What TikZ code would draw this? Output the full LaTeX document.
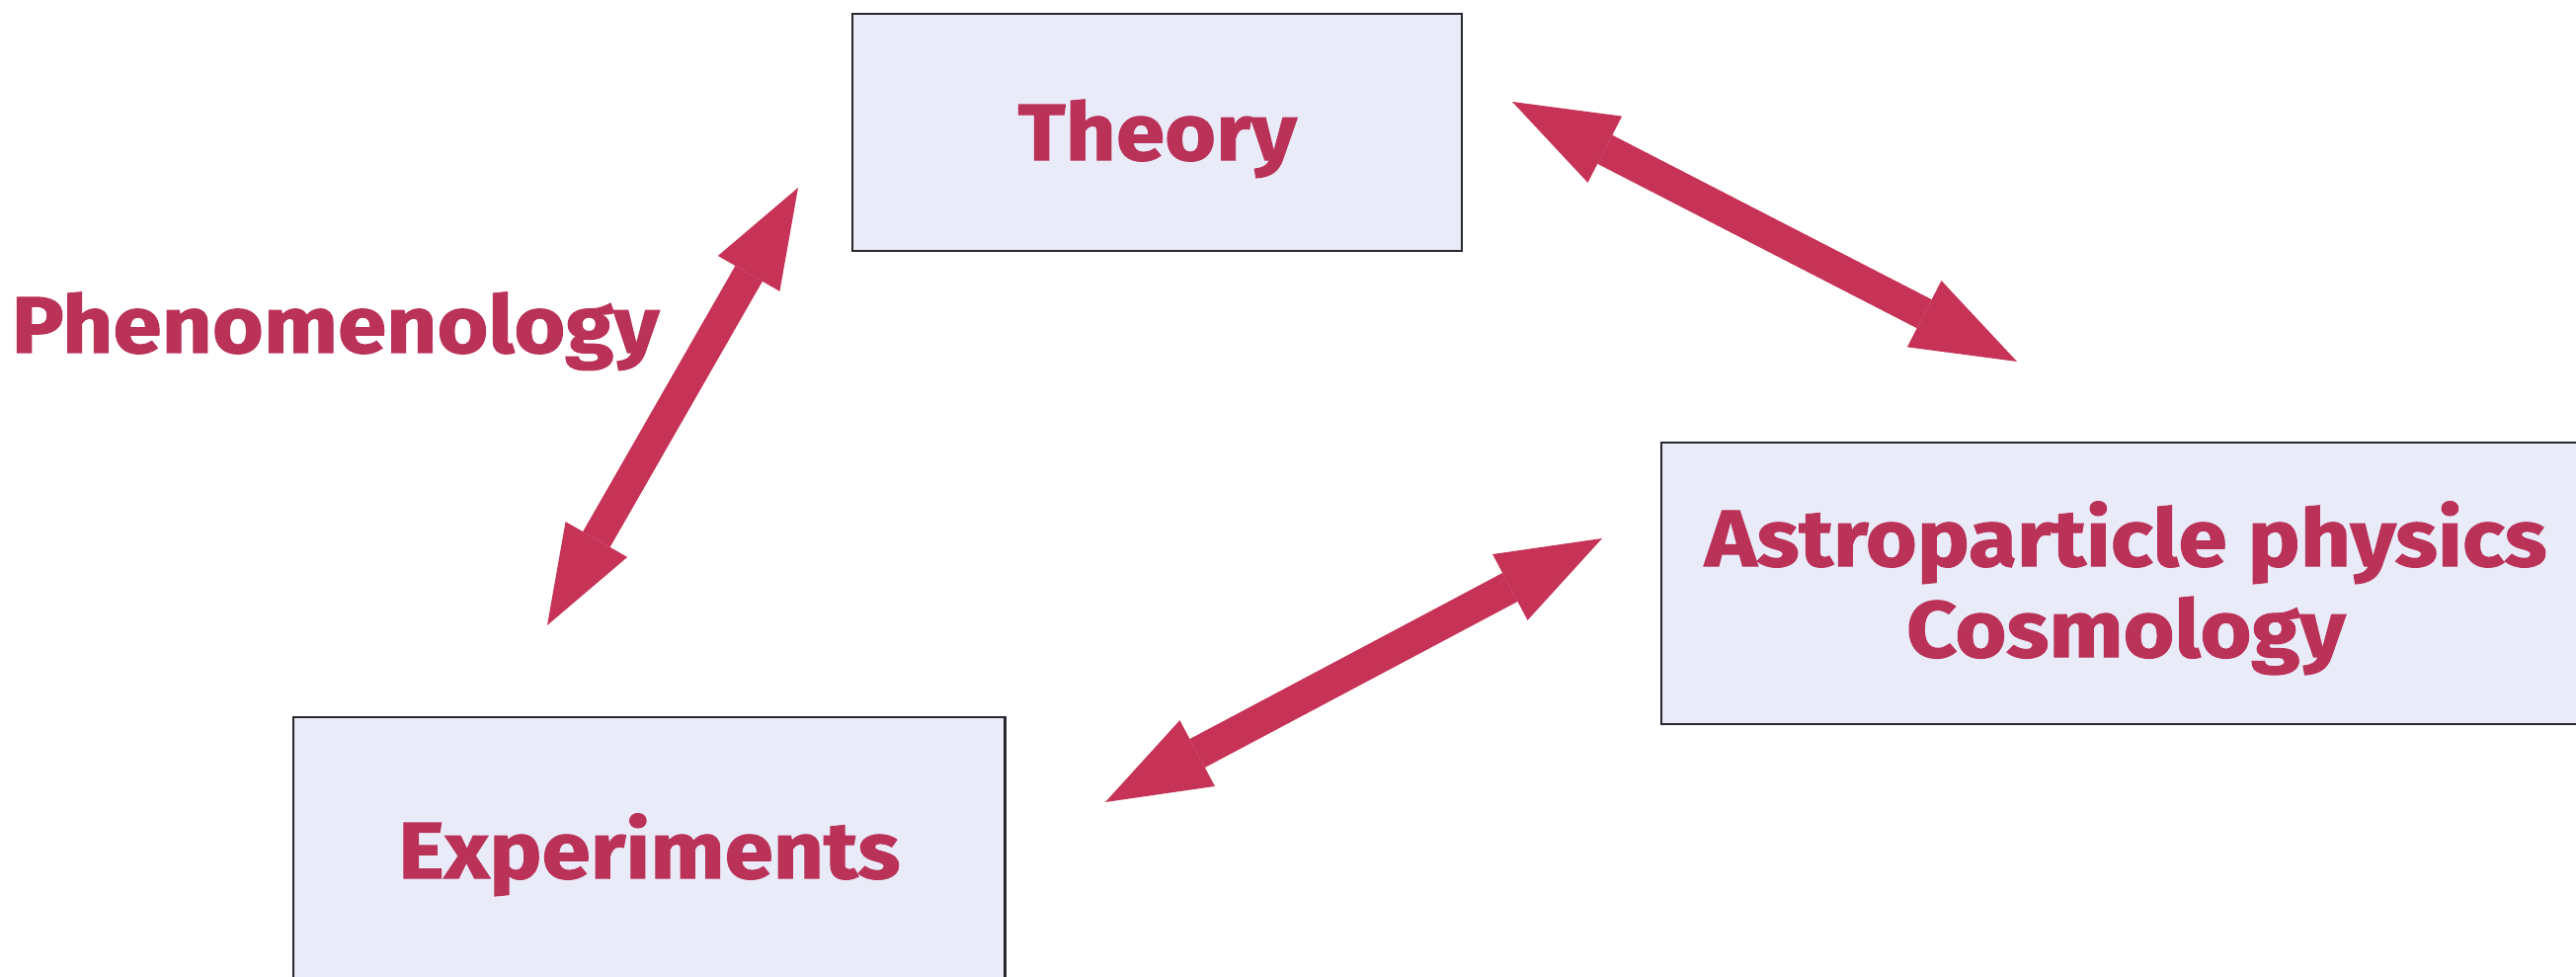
\documentclass[tikz,border=0pt]{standalone}
\usepackage{fontspec}
\setmainfont{Fira Sans}[BoldFeatures={FakeBold=1.3, FakeStretch=1.1}]
\usetikzlibrary{arrows.meta}
\definecolor{arrowred}{RGB}{198,51,86}
\definecolor{textred}{RGB}{186,50,88}
\definecolor{boxfill}{RGB}{233,235,249}
\definecolor{boxline}{RGB}{40,40,45}
\tikzset{
  box/.style={draw=boxline, line width=0.6pt, fill=boxfill, inner sep=0pt,
              anchor=north west, text=textred, align=center,
              font=\fontsize{23}{26.2}\selectfont\bfseries},
  lbl/.style={text=textred, inner sep=0pt, font=\fontsize{23}{26.2}\selectfont\bfseries},
  dblarrow/.style={draw=arrowred, line width=9.3pt,
     {Triangle[length=30pt,width=21.5pt,line width=0pt,fill=arrowred]}-{Triangle[length=30pt,width=21.5pt,line width=0pt,fill=arrowred]}},
  thinarrow/.style={draw=arrowred, line width=9pt,
     {Triangle[length=28.5pt,width=20.5pt,line width=0pt,fill=arrowred]}-{Triangle[length=28.5pt,width=20.5pt,line width=0pt,fill=arrowred]}}
}
\begin{document}
\begin{tikzpicture}[x=0.01cm,y=-0.01cm]
\useasboundingbox (0,0) rectangle (2608,989);
\clip (0,0) rectangle (2608,989);
\fill[white] (0,0) rectangle (2608,989);

\node[box, minimum width=6.17cm, minimum height=2.40cm, text height=15.9pt, text depth=0pt] (theory) at (862,13) {Theory};
\node[box, minimum width=9.40cm, minimum height=2.85cm, text height=42.4pt, text depth=0pt] (astro) at (1681,447) {Astroparticle physics\\Cosmology};
\node[box, minimum width=7.20cm, minimum height=2.70cm, text height=15.9pt, text depth=0pt] (exp) at (296,725) {Experiments};

\node[lbl, anchor=base] (phen) at (339.5,357) {Phenomenology};

\coordinate (phT) at (808,190);
\coordinate (phB) at (554,633);
\coordinate (taT) at (1531,103);
\coordinate (taB) at (2042,366);
\coordinate (eaE) at (1119,812);
\coordinate (eaA) at (1622,545);

\draw[thinarrow] (phT) -- (phB);
\draw[dblarrow] (taT) -- (taB);
\draw[dblarrow] (eaE) -- (eaA);
\end{tikzpicture}
\end{document}
